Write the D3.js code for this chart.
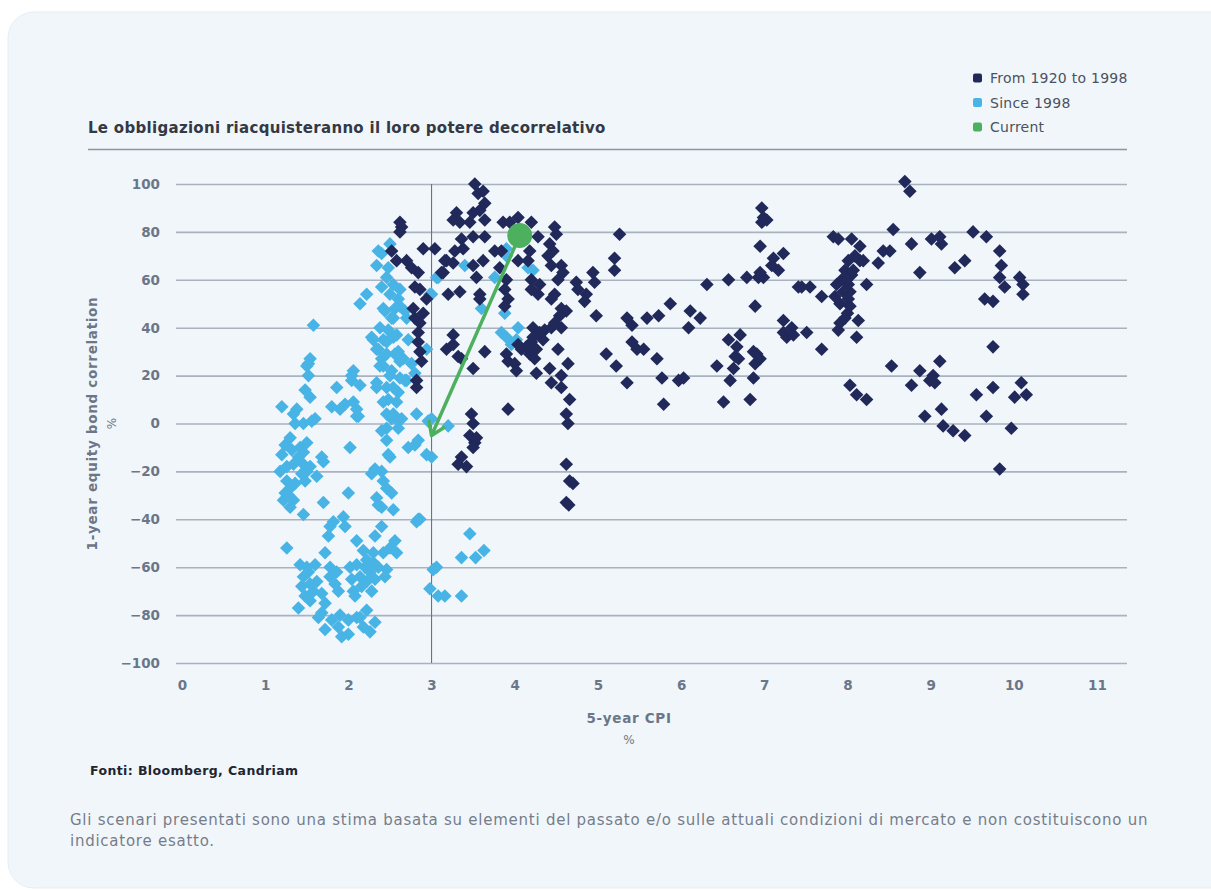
<!DOCTYPE html>
<html>
<head>
<meta charset="utf-8">
<script src="https://cdn.jsdelivr.net/npm/d3@7"></script>
<style>
	html, body { margin: 0; padding: 0; background: #ffffff; }
	svg { display: block; font-family: "DejaVu Sans", sans-serif; }
</style>
</head>
<body>
<svg id="chart" width="1211" height="890"></svg>
<script>
const title = "Le obbligazioni riacquisteranno il loro potere decorrelativo";
const seriesNames = ["From 1920 to 1998", "Since 1998", "Current"];
const seriesColors = ["#21295a", "#48b4e6", "#4cb05f"];
const xTicks = [0, 1, 2, 3, 4, 5, 6, 7, 8, 9, 10, 11];
const yTicks = [-100, -80, -60, -40, -20, 0, 20, 40, 60, 80, 100];
const refLineX = 3;

// [5-year CPI %, 1-year equity bond correlation %]
const pointsSince1998 = [
	[1.58,41],[1.54,27],[1.50,24],[1.52,20],[1.48,14],[1.54,11],[1.20,7],[1.38,6],[1.34,4],[1.36,0],
	[1.30,-6],[1.24,-9],[1.20,-13],[1.32,-11],[1.46,0],[1.60,2],[1.50,-8],[1.42,-10],[1.40,-14],[1.34,-17],
	[1.46,-17],[1.50,-20],[1.44,-21],[1.62,-22],[1.18,-20],[1.26,-24],[1.30,-27],[1.24,-29],[1.22,-32],[1.30,-35],
	[1.34,-32],[1.46,-38],[1.68,-14],[1.70,-16],[1.26,-52],[1.40,-77],[1.28,-30],[1.36,-25],[1.46,-12],[1.54,-18],
	[1.48,-24],[1.26,-18],[1.56,1],[1.52,25],
	[2.02,-10],[1.86,15],[1.80,7],[1.96,8],[1.90,6],[2.10,6],[2.10,3],[2.06,22],[2.04,18],[2.14,16],
	[2.34,15],[2.00,-29],[1.70,-33],[2.14,50],[2.22,54],[2.30,35],[2.34,17],[2.12,3],[2.04,20],[2.06,9],
	[2.50,75],[2.36,72],[2.34,66],[2.46,61],[2.40,57],[2.54,58],[2.62,56],[2.50,54],[2.60,52],[2.42,48],
	[2.56,48],[2.68,47],[2.70,44],[2.54,44],[2.38,40],[2.48,39],[2.28,36],[2.42,35],[2.54,36],[2.34,31],
	[2.46,29],[2.60,30],[2.72,35],[2.76,25],[2.62,26],[2.42,24],[2.50,20],[2.68,18],[2.80,21],[2.60,13],
	[2.46,15],[2.42,9],[2.54,4],[2.60,1],[2.46,-2],[2.82,4],[2.96,1],[2.84,-7],[2.72,-10],[2.48,-13],
	[2.94,-13],[2.36,31],[2.46,34],[2.58,37],[2.56,29],[2.40,27],[2.66,27],[2.38,24],[2.52,22],[2.62,19],
	[2.70,18],[2.54,15],[2.48,10],[2.58,9],[2.46,4],[2.52,2],[2.40,-3],[2.46,-7],[2.60,-2],[2.64,2],
	[2.50,-14],[2.80,-9],[2.44,47],[2.52,44],[2.62,49],[2.40,71],[2.48,65],[2.94,31],[2.98,54],[3.06,61],
	[2.28,-21],[2.32,-19],[2.40,-20],[2.42,-24],[2.46,-27],[2.52,-29],[2.34,-31],[2.36,-34],[2.40,-35],[2.54,-36],
	[2.84,-40],[2.82,-41],[1.82,-41],[1.78,-43],[1.76,-47],[1.94,-39],[1.96,-43],[2.40,-43],[2.32,-47],[2.10,-49],
	[2.56,-49],[2.58,-54],[2.42,-54],[2.50,-52],[1.72,-54],[2.18,-53],[2.30,-54],[1.42,-59],[1.60,-59],[1.50,-60],
	[1.78,-60],[1.86,-62],[2.02,-60],[2.10,-59],[2.22,-57],[2.36,-60],[2.46,-61],[2.14,-64],[2.04,-65],[2.22,-66],
	[2.32,-65],[2.44,-64],[1.46,-64],[1.54,-67],[1.44,-68],[1.58,-70],[1.48,-72],[1.68,-71],[1.78,-64],[1.84,-67],
	[1.88,-70],[2.06,-70],[2.08,-72],[1.72,-75],[1.68,-79],[2.22,-78],[1.64,-81],[1.80,-82],[1.90,-80],[2.00,-82],
	[2.10,-81],[2.18,-85],[2.32,-83],[2.26,-87],[1.72,-86],[1.92,-89],[2.00,-88],[1.88,-85],[2.14,-81],[2.26,-62],
	[2.20,-60],[2.30,-58],[2.16,-68],[2.28,-70],[1.54,-74],[1.62,-66],[1.52,-62],
	[3.06,-60],[3.02,-61],[2.98,-69],[3.08,-72],[3.16,-72],[3.36,-72],[3.36,-56],[3.53,-56],[3.63,-53],[3.46,-46],
	[2.86,-40],[3.00,2],[3.20,-1],[3.00,-14],[3.40,66],[3.08,61],[3.00,54],[3.90,73],[4.16,65],[3.76,61],
	[3.60,48],[3.88,46],[3.84,38],[3.90,36],[4.04,40],[4.02,35],[3.96,33],[3.90,70],[4.22,64]
];

const points1920to1998 = [
	[2.62,84],[2.64,82],[2.62,80],[2.52,72],[2.58,68],[2.70,68],[2.76,65],[2.84,63],[2.90,73],[3.04,73],
	[2.80,57],[2.86,56],[2.94,52],[2.78,48],[2.90,46],[2.80,44],[2.86,42],[2.84,38],[2.84,34],[2.86,30],
	[2.88,26],[2.82,18],[2.82,15],[3.18,68],[3.14,63],[3.20,54],[3.26,37],[3.18,31],[3.32,28],
	[3.52,100],[3.56,96],[3.62,97],[3.64,92],[3.58,89],[3.50,88],[3.30,88],[3.26,85],[3.34,84],[3.46,84],
	[3.64,85],[3.64,78],[3.50,78],[3.36,77],[3.38,73],[3.16,68],[3.26,67],[3.12,63],[3.28,72],[3.50,66],
	[3.62,68],[3.54,61],[3.34,55],[3.58,54],[3.58,52],[3.76,72],[3.84,72],[3.82,65],[3.90,60],[3.88,56],
	[3.92,52],[3.88,49],[3.86,84],[3.94,84],[4.04,86],[4.20,84],[4.28,78],[4.18,72],[4.04,68],[4.16,68],
	[4.20,60],[4.30,58],[4.20,56],[4.28,54],[4.48,82],[4.50,79],[4.42,75],[4.46,72],[4.40,70],[4.44,66],
	[4.56,66],[4.58,63],[4.52,60],[4.48,54],[4.44,52],[4.56,48],[4.62,47],[4.54,45],[4.48,42],[4.56,40],
	[4.74,59],[4.76,56],[4.86,54],[4.84,51],[4.94,63],[4.96,59],[4.98,45],[5.20,69],[5.20,64],[5.10,29],
	[5.22,24],[4.22,40],[4.30,38],[4.36,39],[4.44,40],[4.14,32],[4.20,34],[4.26,31],[4.18,29],[4.24,27],
	[4.08,31],[4.04,33],[4.34,35],[4.22,36],[4.52,31],[4.64,25],[4.42,23],[4.56,20],[4.26,21],[4.44,17],
	[4.56,15],[4.66,10],[4.62,4],[4.64,0],[3.92,26],[4.00,25],[4.02,22],[3.90,29],[3.64,30],[3.50,23],
	[3.36,27],[3.26,33],[3.92,6],[3.48,4],[3.50,0],[3.46,-5],[3.52,-8],[3.36,-14],[3.32,-17],[4.62,-17],
	[4.66,-24],[4.70,-25],[4.62,-33],[4.65,-34],[3.42,-18],[3.54,-6],[3.50,-10],
	[5.26,79],[6.97,90],[6.99,86],[7.03,85],[6.97,84],[6.95,74],[7.11,69],[7.23,71],[7.09,66],[7.17,64],
	[6.95,63],[6.99,61],[6.93,61],[6.79,61],[6.57,60],[6.31,58],[6.89,49],[5.87,50],[5.73,45],[5.59,44],
	[5.35,44],[5.41,41],[6.11,47],[6.23,44],[6.09,40],[5.41,34],[5.47,31],[5.55,31],[5.71,27],[5.77,19],
	[5.35,17],[5.79,8],[5.97,18],[6.03,19],[6.43,24],[6.57,35],[6.71,37],[6.67,32],[6.65,28],[6.69,27],
	[6.63,23],[6.59,18],[6.51,9],[6.83,10],[6.87,19],[6.89,25],[6.91,29],[6.87,30],[7.23,43],[7.33,40],
	[7.23,38],[7.27,36],[7.35,37],[7.41,57],
	[8.69,101],[8.75,97],[7.45,57],[7.55,57],[7.69,53],[7.83,78],[7.89,77],[8.05,77],[8.15,74],[8.15,68],
	[8.01,68],[7.97,64],[8.07,64],[7.93,60],[7.87,58],[8.01,58],[7.95,55],[8.03,55],[7.85,53],[8.01,52],
	[7.91,50],[8.03,49],[8.23,58],[8.19,68],[8.37,67],[8.43,72],[8.51,72],[8.55,81],[8.77,75],[9.01,77],
	[9.11,78],[9.13,75],[8.87,63],[9.29,65],[9.41,68],[9.51,80],[9.67,78],[9.83,72],[9.85,66],[9.83,61],
	[10.07,61],[10.11,58],[10.11,54],[9.89,57],[9.65,52],[9.75,51],[9.75,32],[7.51,38],[7.69,31],[7.91,42],
	[7.89,39],[8.13,43],[8.11,36],[6.95,27],[8.03,16],[8.11,12],[8.23,10],[8.53,24],[8.77,16],[8.87,22],
	[9.03,20],[8.99,18],[9.05,17],[9.11,26],[8.93,3],[9.13,6],[9.15,-1],[9.27,-3],[9.41,-5],[9.55,12],
	[9.75,15],[9.67,3],[9.97,-2],[9.83,-19],[10.09,17],[10.15,12],[10.01,11],[8.05,62],[7.99,60],[8.09,70],
	[8.00,46],[7.97,44]
];

const currentPoint = [4.06, 78.5];
const arrowEnd = [3.0, -5];

const
	plotLeft = 176,
	plotRight = 1127,
	plotTop = 184,
	plotBottom = 663;

const axisGrey = "#6b7688";

const svg = d3.select("#chart");

const defs = svg.append("defs");
defs.append("marker")
	.attr("id", "arrowhead")
	.attr("markerUnits", "userSpaceOnUse")
	.attr("viewBox", "0 0 20 20")
	.attr("refX", 17)
	.attr("refY", 10)
	.attr("markerWidth", 20)
	.attr("markerHeight", 20)
	.attr("orient", "auto")
	.append("path")
	.attr("d", "M5,2 L17,10 L5,18")
	.attr("fill", "none")
	.attr("stroke", seriesColors[2])
	.attr("stroke-width", 3.5)
	.attr("stroke-linecap", "round")
	.attr("stroke-linejoin", "round");

// card background
svg.append("rect")
	.attr("x", 8)
	.attr("y", 12)
	.attr("width", 1230)
	.attr("height", 876)
	.attr("rx", 26)
	.attr("fill", "#f1f6fb")
	.attr("stroke", "#e6edf4")
	.attr("stroke-width", 1);

const x = d3.scaleLinear().domain([0, 11]).range([182, 1097]);
const y = d3.scaleLinear().domain([-100, 100]).range([plotBottom, plotTop]);

// legend
const legend = svg.append("g").attr("transform", "translate(973, 78)");
seriesNames.forEach((name, i) => {
	const row = legend.append("g").attr("transform", `translate(0, ${i * 24.5})`);
	row.append("rect")
		.attr("x", 0)
		.attr("y", -4.5)
		.attr("width", 9)
		.attr("height", 9)
		.attr("rx", 2)
		.attr("fill", seriesColors[i]);
	row.append("text")
		.attr("x", 17)
		.attr("y", 5)
		.style("font-size", "14px")
		.style("letter-spacing", "0.25px")
		.style("fill", "#4b5260")
		.text(name);
});

// title + rule
svg.append("text")
	.attr("x", 88)
	.attr("y", 133)
	.style("font-size", "15px")
	.style("letter-spacing", "0.3px")
	.style("font-weight", 700)
	.style("fill", "#333945")
	.text(title);

svg.append("line")
	.attr("x1", 88)
	.attr("x2", plotRight)
	.attr("y1", 149.5)
	.attr("y2", 149.5)
	.attr("stroke", "#8b95a3")
	.attr("stroke-width", 1.3);

// y axis with gridlines
const yAxis = svg.append("g")
	.attr("transform", `translate(${plotLeft}, 0)`)
	.call(d3.axisLeft(y)
		.tickValues(yTicks)
		.tickSize(-(plotRight - plotLeft))
		.tickPadding(16)
		.tickFormat(d => d < 0 ? "\u2212" + Math.abs(d) : d));
yAxis.select(".domain").remove();
yAxis.selectAll(".tick line")
	.attr("stroke", "#a9b2bf")
	.attr("stroke-width", 1.6);
yAxis.selectAll(".tick text")
	.style("font-family", "'DejaVu Sans', sans-serif")
	.style("font-size", "13.5px")
	.style("font-weight", 700)
	.style("fill", axisGrey);

// x axis
const xAxis = svg.append("g")
	.attr("transform", `translate(0, ${plotBottom})`)
	.call(d3.axisBottom(x)
		.tickValues(xTicks)
		.tickSize(0)
		.tickPadding(17));
xAxis.select(".domain").remove();
xAxis.selectAll(".tick text")
	.style("font-family", "'DejaVu Sans', sans-serif")
	.style("font-size", "13.5px")
	.style("font-weight", 700)
	.style("fill", axisGrey);

// vertical reference line at 3%
svg.append("line")
	.attr("x1", x(refLineX))
	.attr("x2", x(refLineX))
	.attr("y1", y(100))
	.attr("y2", y(-100))
	.attr("stroke", "#6b7280")
	.attr("stroke-width", 1.1);

// axis titles
svg.append("text")
	.attr("transform", `translate(97, ${(plotTop + plotBottom) / 2}) rotate(-90)`)
	.attr("text-anchor", "middle")
	.style("font-size", "13.5px")
	.style("letter-spacing", "0.7px")
	.style("font-weight", 700)
	.style("fill", axisGrey)
	.text("1-year equity bond correlation");
svg.append("text")
	.attr("transform", `translate(116, ${(plotTop + plotBottom) / 2}) rotate(-90)`)
	.attr("text-anchor", "middle")
	.style("font-size", "12px")
	.style("fill", axisGrey)
	.text("%");

svg.append("text")
	.attr("x", 629)
	.attr("y", 723)
	.attr("text-anchor", "middle")
	.style("font-size", "13.5px")
	.style("letter-spacing", "0.7px")
	.style("font-weight", 700)
	.style("fill", axisGrey)
	.text("5-year CPI");
svg.append("text")
	.attr("x", 629)
	.attr("y", 744)
	.attr("text-anchor", "middle")
	.style("font-size", "12px")
	.style("fill", axisGrey)
	.text("%");

// points
const diamond = d3.symbol().type(d3.symbolSquare).size(92);

svg.append("g")
	.selectAll("path")
	.data(pointsSince1998)
	.enter()
	.append("path")
	.attr("d", diamond)
	.attr("transform", d => `translate(${x(d[0])}, ${y(d[1])}) rotate(45)`)
	.attr("fill", seriesColors[1]);

svg.append("g")
	.selectAll("path")
	.data(points1920to1998)
	.enter()
	.append("path")
	.attr("d", diamond)
	.attr("transform", d => `translate(${x(d[0])}, ${y(d[1])}) rotate(45)`)
	.attr("fill", seriesColors[0]);

// current point + arrow
svg.append("line")
	.attr("x1", x(currentPoint[0]))
	.attr("y1", y(currentPoint[1]))
	.attr("x2", x(arrowEnd[0]))
	.attr("y2", y(arrowEnd[1]))
	.attr("stroke", seriesColors[2])
	.attr("stroke-width", 3.5)
	.attr("marker-end", "url(#arrowhead)");

svg.append("circle")
	.attr("cx", x(currentPoint[0]))
	.attr("cy", y(currentPoint[1]))
	.attr("r", 12.5)
	.attr("fill", seriesColors[2]);

// source + disclaimer
svg.append("text")
	.attr("x", 90)
	.attr("y", 775)
	.style("font-size", "12.5px")
	.style("letter-spacing", "0.4px")
	.style("font-weight", 700)
	.style("fill", "#1f2530")
	.text("Fonti: Bloomberg, Candriam");

const footer = svg.append("text")
	.style("font-size", "15px")
	.style("letter-spacing", "0.75px")
	.style("fill", "#767d8a");
footer.append("tspan")
	.attr("x", 70)
	.attr("y", 825)
	.text("Gli scenari presentati sono una stima basata su elementi del passato e/o sulle attuali condizioni di mercato e non costituiscono un");
footer.append("tspan")
	.attr("x", 70)
	.attr("y", 846)
	.text("indicatore esatto.");
</script>
</body>
</html>
